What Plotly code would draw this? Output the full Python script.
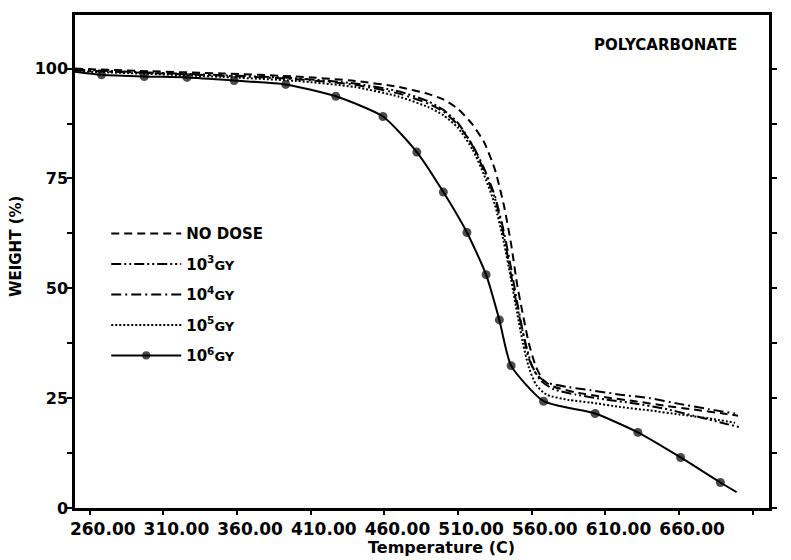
import plotly.graph_objects as go

# ---------------- data ----------------
x_nodose = [250, 300, 350, 400, 440, 470, 490, 500, 510, 520, 528, 535, 541, 546, 550, 554, 558, 563, 568, 575, 590, 610, 630, 650, 670, 690, 700]
y_nodose = [100, 99.4, 98.9, 98.2, 97.2, 95.8, 94.2, 93.0, 90.8, 87.2, 83.0, 77.0, 69.0, 60.0, 51.0, 44.0, 37.5, 32.0, 29.0, 27.6, 26.3, 25.2, 24.3, 23.3, 22.4, 21.5, 21.0]

x_e3 = [250, 300, 350, 400, 440, 470, 490, 500, 510, 520, 528, 535, 541, 546, 550, 555, 560, 566, 575, 590, 610, 630, 650, 670, 690, 702]
y_e3 = [99.8, 99.1, 98.5, 97.8, 96.6, 94.8, 92.5, 90.6, 87.6, 82.3, 76.5, 70.5, 62.0, 53.0, 46.0, 38.5, 32.5, 29.0, 27.0, 25.8, 24.7, 23.8, 22.6, 21.0, 19.3, 18.3]

x_e4 = [250, 300, 350, 400, 440, 470, 490, 500, 510, 520, 528, 535, 541, 546, 550, 554, 558, 563, 570, 585, 600, 620, 640, 660, 680, 698]
y_e4 = [99.6, 99.0, 98.4, 97.6, 96.3, 94.3, 92.0, 90.2, 87.2, 82.5, 77.0, 71.0, 63.0, 54.5, 47.0, 40.0, 34.0, 30.5, 28.6, 27.5, 26.8, 25.8, 25.0, 23.7, 22.5, 21.5]

x_e5 = [250, 300, 350, 400, 440, 470, 490, 500, 510, 520, 528, 535, 541, 546, 550, 554, 558, 563, 570, 585, 600, 620, 640, 660, 680, 698]
y_e5 = [99.4, 98.8, 98.1, 97.2, 95.8, 93.6, 91.2, 89.4, 86.5, 81.5, 75.5, 69.0, 60.5, 52.0, 44.5, 37.5, 32.0, 28.0, 25.8, 24.6, 24.0, 23.0, 22.2, 21.3, 20.4, 19.4]

x_e6 = [250, 268, 297, 326, 358, 393, 427, 459, 482, 500, 516, 529, 538, 546, 568, 603, 632, 661, 688, 699]
y_e6 = [99.3, 98.6, 98.2, 98.0, 97.3, 96.4, 93.7, 89.1, 81.0, 71.9, 62.7, 53.1, 42.8, 32.4, 24.3, 21.5, 17.2, 11.5, 5.8, 3.6]
e6_has_marker = [0, 1, 1, 1, 1, 1, 1, 1, 1, 1, 1, 1, 1, 1, 1, 1, 1, 1, 1, 0]

x_tickvals = [260, 310, 360, 410, 460, 510, 560, 610, 660, 710]
x_ticktext = ["260.00", "310.00", "360.00", "410.00", "460.00", "510.00", "560.00", "610.00", "660.00", "710.00"]
y_tickvals = [0, 25, 50, 75, 100]

FONT = "DejaVu Sans"
GY = "<span style='font-size:13px'>GY</span>"

# plot area in pixels (for placing free text)
L, R, T, B = 75, 769, 13, 508
def px(x):
    return (x - L) / (R - L)
def py(y):
    return (B - y) / (B - T)

fig = go.Figure()

def add_line(x, y, name, dash, group):
    fig.add_trace(go.Scatter(
        x=x, y=y, mode="lines", name=name, legendgroup=group,
        line=dict(color="black", width=2, dash=dash, shape="spline", smoothing=0.6),
    ))

add_line(x_nodose, y_nodose, "<b>NO DOSE</b>", "8px,5px", "a")
add_line(x_e3, y_e3, "<b>10<sup>3</sup>" + GY + "</b>", "10px,3px,2px,3px,2px,3px", "b")
add_line(x_e4, y_e4, "<b>10<sup>4</sup>" + GY + "</b>", "10px,4px,2px,4px", "c")
add_line(x_e5, y_e5, "<b>10<sup>5</sup>" + GY + "</b>", "2px,2px", "d")

fig.add_trace(go.Scatter(
    x=x_e6, y=y_e6, mode="lines+markers", name="<b>10<sup>6</sup>" + GY + "</b>", legendgroup="e",
    line=dict(color="black", width=2, shape="spline", smoothing=0.6),
    marker=dict(color="black", size=[9 * m for m in e6_has_marker], line=dict(width=0)),
))

fig.update_layout(
    width=791, height=560,
    margin=dict(l=L, r=791 - R, t=T, b=560 - B),
    paper_bgcolor="white", plot_bgcolor="white",
    font=dict(family=FONT, color="black", size=14),
    showlegend=True,
    legend=dict(
        x=0.045, y=0.59, xanchor="left", yanchor="top",
        bgcolor="rgba(0,0,0,0)", tracegroupgap=8, itemwidth=70,
        font=dict(family=FONT, size=15, color="black"),
    ),
)

fig.add_annotation(text="<b>POLYCARBONATE</b>", xref="paper", yref="paper",
                   x=px(665), y=py(43), xanchor="center", yanchor="middle", showarrow=False,
                   font=dict(family=FONT, size=15))
fig.add_annotation(text="<b>Temperature (C)</b>", xref="paper", yref="paper",
                   x=px(441), y=py(548), xanchor="center", yanchor="middle", showarrow=False,
                   font=dict(family=FONT, size=16))
fig.add_annotation(text="<b>WEIGHT (%)</b>", xref="paper", yref="paper",
                   x=px(16), y=py(245), xanchor="center", yanchor="middle", showarrow=False,
                   textangle=-90, font=dict(family=FONT, size=15))

fig.update_xaxes(
    range=[250, 721], tickvals=x_tickvals, ticktext=x_ticktext,
    ticks="outside", ticklen=4, tickwidth=2, tickcolor="black",
    showline=True, linewidth=2.5, linecolor="black", mirror=True,
    showgrid=False, zeroline=False, ticklabelshift=13,
    tickfont=dict(family=FONT, size=17, weight="bold"),
)
fig.update_yaxes(
    range=[0, 112.2], tickvals=y_tickvals,
    ticks="outside", ticklen=5, tickwidth=2, tickcolor="black",
    minor=dict(dtick=12.5, ticks="outside", ticklen=5, tickwidth=2, tickcolor="black"),
    showline=True, linewidth=2.5, linecolor="black", mirror="ticks",
    showgrid=False, zeroline=False, ticklabelstandoff=-4,
    tickfont=dict(family=FONT, size=16, weight="bold"),
)

fig.write_html("out.html")
